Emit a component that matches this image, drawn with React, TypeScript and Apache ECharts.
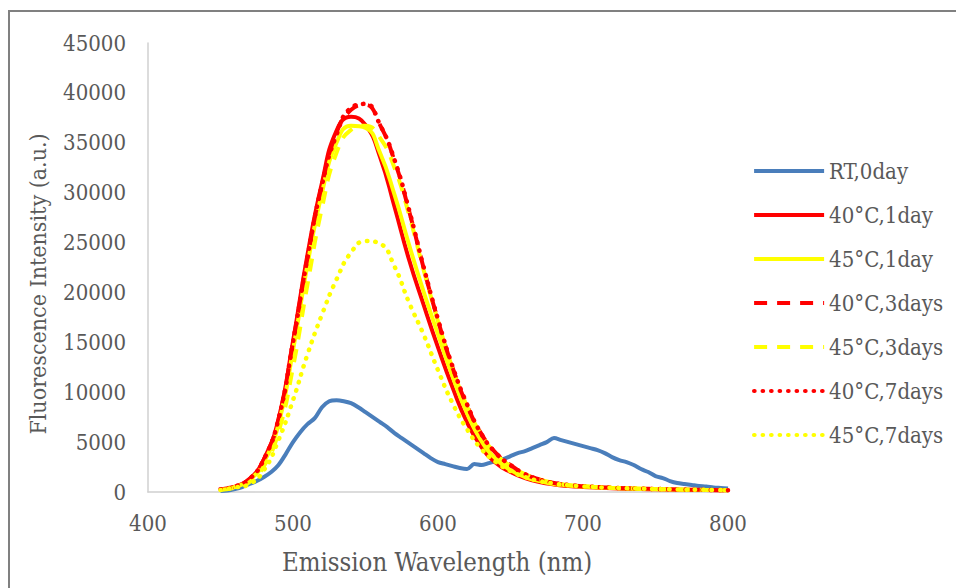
import React, { useEffect, useRef } from "react";
import * as echarts from "echarts";

// Wavelength grids (nm)
const wlFine = [
  450, 455, 460, 465, 470, 475, 480, 485, 490, 495, 500, 505, 510, 515, 520, 525, 530, 535, 540, 545,
  550, 555, 560, 565, 570, 575, 580, 585, 590, 595, 600, 605, 610, 615, 620, 625, 630, 635, 640, 645,
  650, 655, 660, 665, 670, 675, 680, 685, 690, 695, 700, 705, 710, 715, 720, 725, 730, 735, 740, 745,
  750, 755, 760, 765, 770, 775, 780, 785, 790, 795, 800,
];
const wl10 = [
  450, 460, 470, 480, 490, 500, 510, 520, 530, 540, 550, 560, 570, 580, 590, 600, 610, 620, 630, 640,
  650, 660, 670, 680, 690, 700, 710, 720, 730, 740, 750, 760, 770, 780, 790, 800,
];

// RT,0day (on wlFine)
const rt0day = [
  100, 150, 300, 500, 800, 1100, 1500, 2000, 2700, 3800, 5000, 6000, 6800, 7400, 8500, 9100, 9200, 9100, 8900, 8500,
  8000, 7500, 7000, 6500, 5900, 5400, 4900, 4400, 3900, 3400, 3000, 2800, 2600, 2400, 2300, 2800, 2700, 2900, 3100, 3300,
  3600, 3900, 4100, 4400, 4700, 5000, 5400, 5200, 5000, 4800, 4600, 4400, 4200, 3900, 3500, 3200, 3000, 2700, 2300, 2000,
  1600, 1400, 1100, 900, 800, 700, 600, 550, 450, 400, 350,
];

// Other series (on wl10)
const c40d1 = [
  270, 550, 1300, 3300, 7300, 15100, 23800, 31000, 36200, 37600, 36800, 33600, 28600, 23300, 18800, 14500, 10500, 7000, 4500, 2900,
  2000, 1400, 1000, 750, 600, 500, 430, 380, 330, 300, 270, 240, 220, 200, 180, 170,
];
const c45d1 = [
  250, 500, 1200, 3000, 6800, 14200, 22800, 30000, 35000, 36700, 36500, 34000, 29800, 24800, 20100, 15800, 11600, 7900, 5100, 3300,
  2200, 1500, 1100, 800, 650, 540, 460, 400, 350, 310, 280, 250, 230, 210, 190, 170,
];
const c40d3 = [
  280, 550, 1300, 3300, 7300, 15000, 23500, 30800, 36000, 38300, 38800, 36800, 33200, 28200, 22500, 17200, 12500, 8700, 5800, 3900,
  2700, 1800, 1250, 900, 700, 580, 500, 430, 380, 340, 300, 270, 240, 220, 200, 180,
];
const c45d3 = [
  220, 450, 1000, 2600, 6000, 12500, 20800, 28500, 34000, 36300, 36700, 35500, 32500, 27800, 22300, 17100, 12400, 8600, 5700, 3800,
  2600, 1800, 1250, 900, 700, 580, 500, 430, 380, 340, 300, 270, 240, 220, 200, 180,
];
const c40d7 = [
  280, 550, 1300, 3300, 7300, 15000, 23500, 30800, 35800, 38500, 38900, 36800, 33300, 28300, 22600, 17300, 12600, 8800, 5800, 3900,
  2700, 1800, 1250, 900, 700, 580, 500, 430, 380, 340, 300, 270, 240, 220, 200, 180,
];
const c45d7 = [
  200, 450, 800, 2200, 5200, 9200, 13800, 17800, 21300, 24000, 25150, 24900, 22600, 19000, 15800, 12200, 8900, 6300, 4300, 3000,
  2100, 1500, 1100, 850, 680, 560, 480, 420, 370, 330, 300, 270, 240, 220, 200, 180,
];

const seriesNames = ["RT,0day", "40°C,1day", "45°C,1day", "40°C,3days", "45°C,3days", "40°C,7days", "45°C,7days"];

const FONT = "'DejaVu Serif Condensed', 'DejaVu Serif', serif";
const TXT = "#595959";

const pairs = (xs: number[], ys: number[]) => xs.map((x, i) => [x, ys[i]]);

export default function App() {
  const ref = useRef<HTMLDivElement>(null);
  useEffect(() => {
    if (!ref.current) return;
    const chart = echarts.init(ref.current, undefined, { renderer: "svg" });
    const red = "#ff0000";
    const yellow = "#ffff00";
    const blue = "#4a7ebb";
    const dashed = [13, 10];
    const dotted = [0.5, 8];
    const mk = (name: string, data: number[][], color: string, type: any, width = 4) => ({
      name,
      type: "line",
      data,
      symbol: "none",
      showSymbol: false,
      smooth: 0.5,
      lineStyle: { color, width, type, cap: type === dotted ? "round" : "butt" },
      itemStyle: { color },
    });
    chart.setOption({
      animation: false,
      backgroundColor: "#ffffff",
      grid: { left: 148, right: 228, top: 43, bottom: 96 },
      xAxis: {
        type: "value",
        min: 400,
        max: 800,
        interval: 100,
        axisLine: { show: true, lineStyle: { color: "#d0d0d0", width: 1.5 } },
        axisTick: { show: false },
        splitLine: { show: false },
        axisLabel: { color: TXT, fontFamily: FONT, fontSize: 22, margin: 20, formatter: (v: number) => String(v) },
      },
      yAxis: {
        type: "value",
        min: 0,
        max: 45000,
        interval: 5000,
        axisLine: { show: true, lineStyle: { color: "#d0d0d0", width: 1.5 } },
        axisTick: { show: false },
        splitLine: { show: false },
        axisLabel: { color: TXT, fontFamily: FONT, fontSize: 22, margin: 22, formatter: (v: number) => String(v) },
      },
      legend: {
        orient: "vertical",
        left: 747,
        top: 155,
        itemWidth: 70,
        itemHeight: 14,
        itemGap: 22,
        itemStyle: { opacity: 0 },
        lineStyle: { width: 4.2 },
        textStyle: { color: TXT, fontFamily: FONT, fontSize: 22, lineHeight: 22 },
        data: seriesNames,
      },
      graphic: [
        {
          type: "rect",
          silent: true,
          shape: { x: 9, y: 11, width: 1200, height: 1200 },
          style: { fill: "none", stroke: "#808080", lineWidth: 2 },
        },
        {
          type: "text",
          x: 437,
          y: 562,
          style: {
            text: "Emission Wavelength (nm)",
            font: `25.5px ${FONT}`,
            fill: TXT,
            textAlign: "center",
            textVerticalAlign: "middle",
          },
        },
        {
          type: "text",
          x: 38,
          y: 284,
          rotation: Math.PI / 2,
          style: {
            text: "Fluorescence Intensity (a.u.)",
            font: `23px ${FONT}`,
            fill: TXT,
            textAlign: "center",
            textVerticalAlign: "middle",
          },
        },
      ],
      series: [
        { ...mk(seriesNames[0], pairs(wlFine, rt0day), blue, "solid", 4), smooth: 0.3 },
        mk(seriesNames[1], pairs(wl10, c40d1), red, "solid"),
        mk(seriesNames[2], pairs(wl10, c45d1), yellow, "solid"),
        mk(seriesNames[3], pairs(wl10, c40d3), red, dashed),
        mk(seriesNames[4], pairs(wl10, c45d3), yellow, dashed),
        mk(seriesNames[5], pairs(wl10, c40d7), red, dotted, 4.5),
        mk(seriesNames[6], pairs(wl10, c45d7), yellow, dotted, 4.5),
      ],
    });
    return () => chart.dispose();
  }, []);
  return (
    <div
      ref={ref}
      style={{ position: "fixed", left: 0, top: 0, width: 956, height: 588, background: "#fff" }}
    />
  );
}
